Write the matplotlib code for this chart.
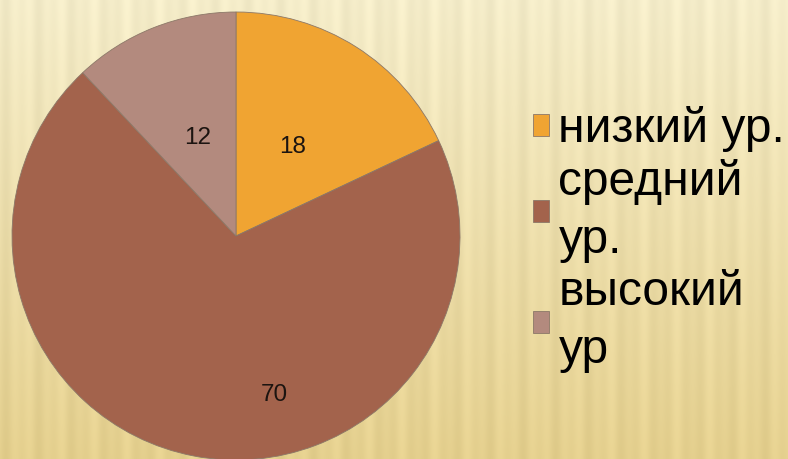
import matplotlib

matplotlib.use("Agg")
import matplotlib.pyplot as plt
import numpy as np

labels = ["низкий ур.", "средний\nур.", "высокий\nур"]
values = [18, 70, 12]
colors = ["#F0A432", "#A3634C", "#B38A7E"]

plt.rcParams["font.family"] = ["Liberation Sans", "DejaVu Sans"]

W, H = 788, 459
fig = plt.figure(figsize=(W / 100, H / 100), dpi=100)

# striped cream background
bg = fig.add_axes([0, 0, 1, 1])
xx = np.arange(W)
yy = np.arange(H)
stripes = 0.5 + 0.5 * np.sin(xx / 22.0 * 2 * np.pi) * np.sin(xx / 61.0 * 2 * np.pi + 1.0)
grad = yy / (H - 1)
top = np.array([251, 243, 208]) / 255.0
bot = np.array([235, 214, 148]) / 255.0
base = top[None, None, :] * (1 - grad[:, None, None]) + bot[None, None, :] * grad[:, None, None]
img = base - 0.05 * stripes[None, :, None]
bg.imshow(np.clip(img, 0, 1), aspect="auto", extent=[0, 1, 0, 1], interpolation="bilinear")
bg.axis("off")

# pie axes, placed so the pie centre sits at (236, 236) px with radius 224 px
cx, cy, R, lim = 236, 236, 224, 1.1
half = R * lim
ax = fig.add_axes([(cx - half) / W, (H - cy - half) / H, 2 * half / W, 2 * half / H])
wedges, texts, autotexts = ax.pie(values, colors=colors, startangle=90, counterclock=False,
                                  autopct="%.0f", pctdistance=0.47,
                                  wedgeprops=dict(edgecolor="#8c7868", linewidth=0.6),
                                  textprops=dict(fontsize=17.5, color="#1c1410"))
ax.set_xlim(-lim, lim)
ax.set_ylim(-lim, lim)
autotexts[1].set_position((0.17, -0.71))

fig.legend(wedges, labels, loc="upper left", bbox_to_anchor=(533 / W, (H - 106) / H),
           frameon=False, fontsize=34.5, handlelength=0.33, handleheight=0.33,
           handletextpad=0.2, labelspacing=0.15, borderpad=0, borderaxespad=0)
for t in fig.legends[0].get_texts():
    t.set_linespacing(1.36)

fig.savefig("out.png", dpi=100)
